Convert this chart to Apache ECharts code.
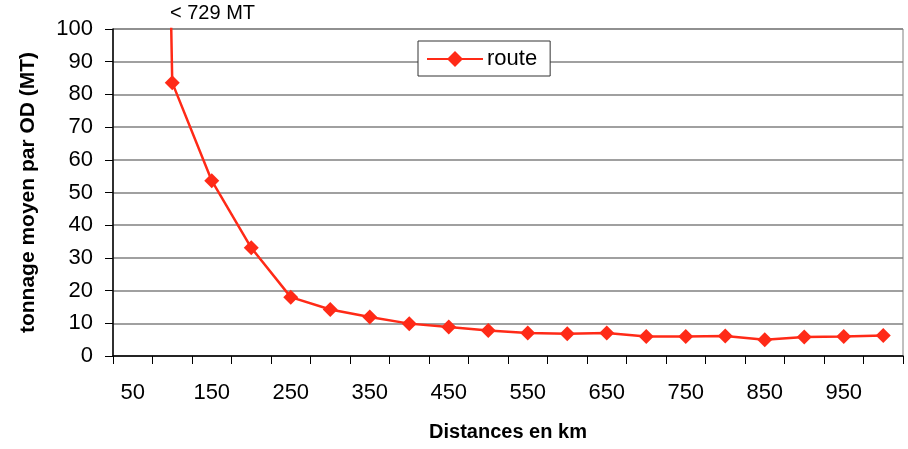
<!DOCTYPE html>
<html>
<head>
<meta charset="utf-8">
<script src="https://cdn.jsdelivr.net/npm/echarts@6/dist/echarts.min.js"></script>
<style>
  html, body { margin: 0; padding: 0; background: #fff; }
  #chart { width: 908px; height: 449px; }
</style>
</head>
<body>
<div id="chart"></div>
<script>
// Distance classes (km)
const distances = ['50','100','150','200','250','300','350','400','450','500',
                   '550','600','650','700','750','800','850','900','950','1000'];
// Average tonnage per origin-destination pair (MT), road transport
const route = [729, 83.6, 53.6, 33.1, 18.0, 14.2, 11.9, 9.9, 8.9, 7.8,
               7.0, 6.8, 7.0, 6.0, 6.0, 6.1, 5.0, 5.8, 6.0, 6.3];
const yTicks = { min: 0, max: 100, interval: 10 };

const red = '#FF2A17';
const font = '"Liberation Sans", Arial, sans-serif';

const chart = echarts.init(document.getElementById('chart'));
chart.setOption({
  animation: false,
  backgroundColor: '#fff',
  grid: { left: 113, top: 29, width: 790, height: 327,
          containLabel: false, outerBoundsMode: 'none',
          show: true, borderColor: '#808080', borderWidth: 1 },
  legend: {
    data: [{ name: 'route' }],
    left: 418, top: 41,
    padding: [7, 13, 6, 8],
    backgroundColor: '#fff',
    borderColor: '#333',
    borderWidth: 1,
    borderRadius: 0,
    itemWidth: 56, itemHeight: 20,
    itemGap: 6,
    textStyle: { fontFamily: font, fontSize: 22, color: '#000', padding: [0, 0, 0, -1] }
  },
  xAxis: {
    type: 'category',
    data: distances,
    boundaryGap: true,
    name: 'Distances en km',
    nameLocation: 'middle',
    nameGap: 66,
    nameTextStyle: { fontFamily: font, fontSize: 20, fontWeight: 'bold', color: '#000' },
    axisLine: { lineStyle: { color: '#000', width: 1.5 } },
    axisTick: { show: true, interval: 0, length: 8, lineStyle: { color: '#000' } },
    axisLabel: { interval: 1, margin: 26, fontFamily: font, fontSize: 22, color: '#000' },
    splitLine: { show: false }
  },
  yAxis: {
    type: 'value',
    min: yTicks.min, max: yTicks.max, interval: yTicks.interval,
    name: 'tonnage moyen par OD (MT)',
    nameLocation: 'middle',
    nameRotate: 90,
    nameGap: 74,
    nameTextStyle: { fontFamily: font, fontSize: 21, fontWeight: 'bold', color: '#000' },
    axisLine: { show: true, lineStyle: { color: '#000', width: 1.5 } },
    axisTick: { show: true, length: 8, lineStyle: { color: '#000' } },
    axisLabel: { margin: 20, fontFamily: font, fontSize: 22, color: '#000' },
    splitLine: { lineStyle: { color: '#808080', width: 1.5 } }
  },
  series: [{
    name: 'route',
    type: 'line',
    data: route,
    clip: true,
    color: red,
    symbol: 'diamond',
    symbolSize: 15,
    showAllSymbol: true,
    lineStyle: { color: red, width: 2.5 },
    itemStyle: { color: red }
  }],
  graphic: [{
    type: 'text',
    left: 170, top: 3,
    style: { text: '< 729 MT', font: '20px ' + font, fill: '#000' }
  }]
});
</script>
</body>
</html>
